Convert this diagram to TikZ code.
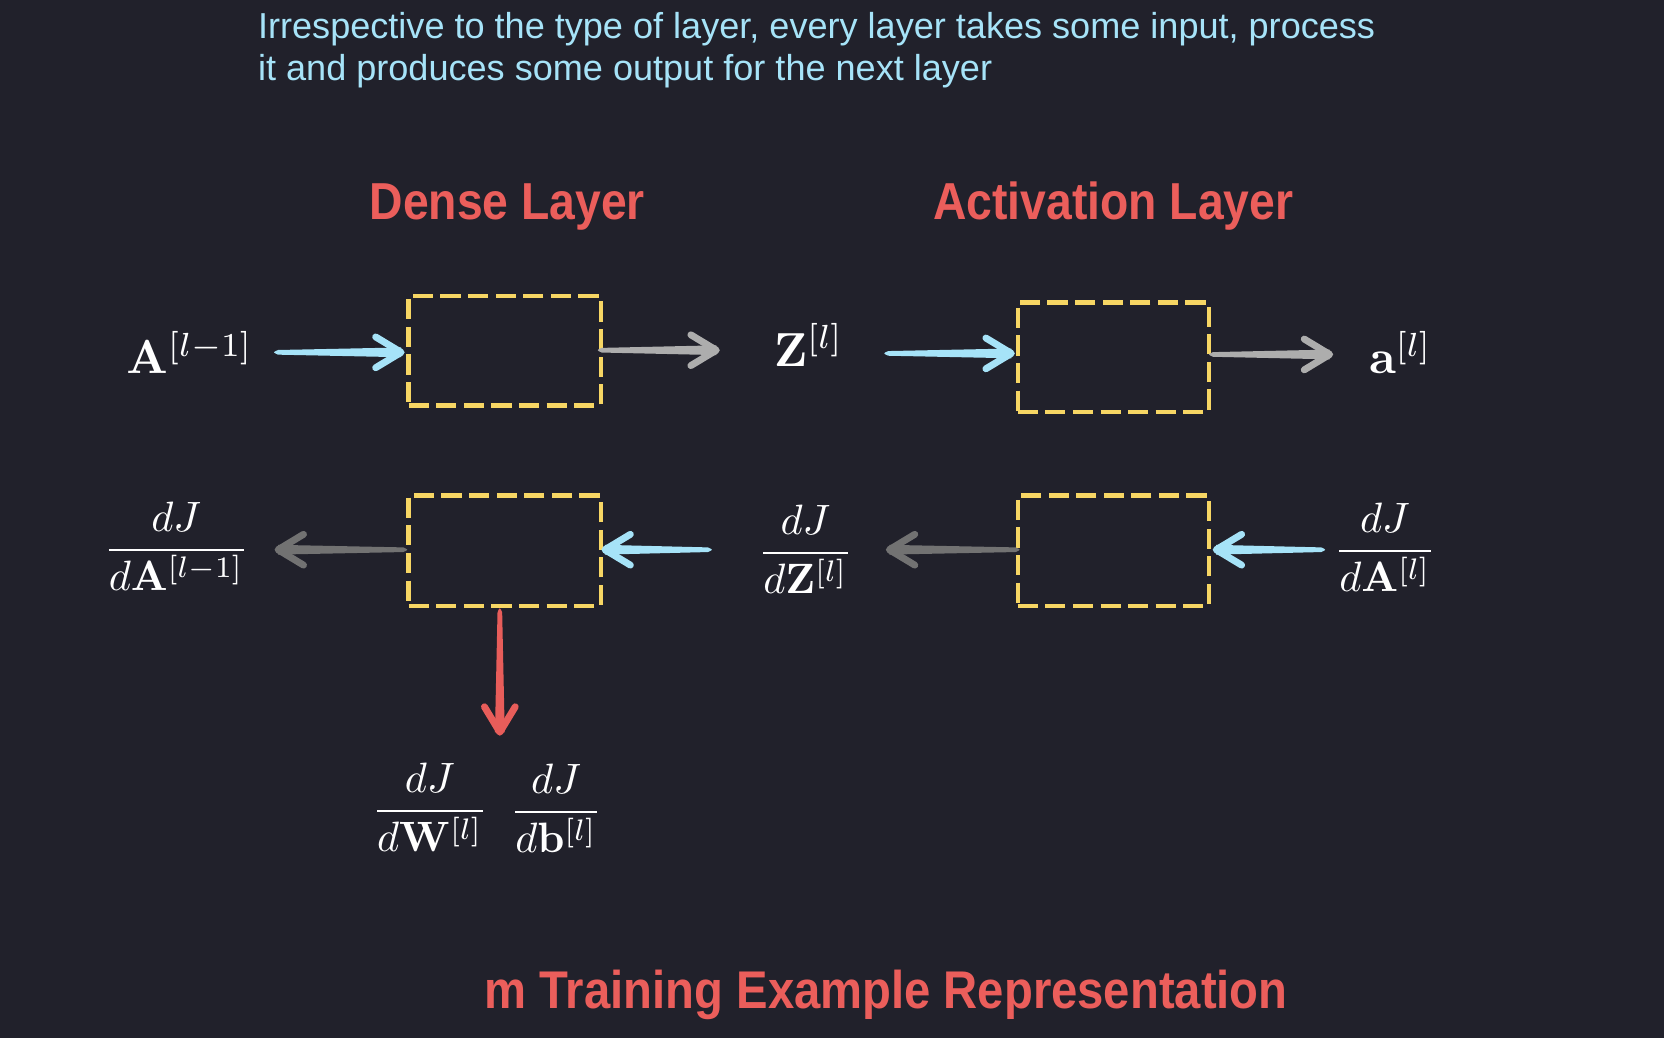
\documentclass[tikz,border=0pt]{standalone}
\usepackage{amsmath}
\usepackage[no-math]{fontspec}
\setmainfont{Liberation Sans}
\newfontfamily\titlefont{Liberation Sans}[FakeStretch=0.89]
\usetikzlibrary{calc}
\definecolor{bg}{HTML}{21212B}
\definecolor{yel}{HTML}{F7D664}
\definecolor{tred}{HTML}{EB5E5B}
\definecolor{lblue}{HTML}{A6E3F8}
\definecolor{ablue}{HTML}{A6E3F8}
\definecolor{lgray}{HTML}{ADADAD}
\definecolor{dgray}{HTML}{727272}
\definecolor{ared}{HTML}{E85D5A}
\newcommand\skarrow[3]{%
  \coordinate (skT1) at ($(#2)!2.2pt!90:(#3)$);
  \coordinate (skT2) at ($(#2)!2.2pt!-90:(#3)$);
  \coordinate (skH1) at ($(#3)!4.6pt!-90:(#2)$);
  \coordinate (skH2) at ($(#3)!4.6pt!90:(#2)$);
  \coordinate (skTb) at ($(#2)!-5pt!(#3)$);
  \fill[#1] (skT1) -- (skH1) -- (skH2) -- (skT2) .. controls (skTb) .. (skT1);
  \coordinate (skB) at ($(#3)!24pt!(#2)$);
  \draw[#1, line width=6.5pt, line cap=round, line join=round]
    ($(skB)!14.5pt!90:(#3)$) -- (#3) -- ($(skB)!14.5pt!-90:(#3)$);
}
\newcommand\mylabmath[1]{\scalebox{4.5}{$#1$}}
\newcommand\myfracmath[1]{\scalebox{4.0}{$\displaystyle #1$}}
\begin{document}
\begin{tikzpicture}[x=1pt,y=-1pt]
\tikzset{
  boxst/.style={draw=yel, line width=4pt, dash pattern=on 19pt off 7pt,
    minimum width=181pt, minimum height=103pt, inner sep=0pt},
  mlab/.style={text=white, inner sep=0pt, anchor=base west},
  flab/.style={text=white, inner sep=0pt, anchor=base},
  ttl/.style={text=tred, font=\titlefont\bfseries\fontsize{49}{58}\selectfont, inner sep=0pt, anchor=base},
  intro/.style={text=lblue, font=\fontsize{34}{40}\selectfont, inner sep=0pt, anchor=base west},
}
\useasboundingbox[fill=bg] (0,0) rectangle (1568,978);

% texts
\node[intro] (intro1) at (243,36) {Irrespective to the type of layer, every layer takes some input, process};
\node[intro] (intro2) at (243,76) {it and produces some output for the next layer};
\node[ttl] (dense) at (478,207) {Dense Layer};
\node[ttl] (act) at (1049,207) {Activation Layer};
\node[ttl, font=\titlefont\bfseries\fontsize{50}{58}\selectfont] (bottom) at (835,950) {m Training Example Representation};

% boxes
\node[boxst] (dfwd) at (475.5,330.5) {};
\node[boxst, minimum width=180pt] (afwd) at (1049,336.5) {};
\node[boxst, minimum height=104pt] (dbwd) at (475.5,519) {};
\node[boxst, minimum width=180pt, minimum height=104pt] (abwd) at (1049,519) {};

% labels
\node[mlab] (Aprev) at (119,352) {\mylabmath{\mathbf{A}^{[l-1]}}};
\node[mlab] (Zl) at (729,345) {\mylabmath{\mathbf{Z}^{[l]}}};
\node[mlab] (al) at (1290,352) {\mylabmath{\mathbf{a}^{[l]}}};
\node[flab] (dAprev) at (166,528) {\myfracmath{\frac{dJ}{d\mathbf{A}^{[l-1]}}}};
\node[flab] (dZl) at (759,531) {\myfracmath{\frac{dJ}{d\mathbf{Z}^{[l]}}}};
\node[flab] (dAl) at (1305,529) {\myfracmath{\frac{dJ}{d\mathbf{A}^{[l]}}}};
\node[flab] (dWl) at (405,774) {\myfracmath{\frac{dJ}{d\mathbf{W}^{[l]}}}};
\node[flab] (dbl) at (524,775) {\myfracmath{\frac{dJ}{d\mathbf{b}^{[l]}}}};

% arrow end points
\coordinate (f1t) at (262,332); \coordinate (f1h) at (378,332);
\coordinate (f2t) at (567,330); \coordinate (f2h) at (675,330);
\coordinate (f3t) at (837,333); \coordinate (f3h) at (953,333);
\coordinate (f4t) at (1143,334); \coordinate (f4h) at (1253,334);
\coordinate (b1t) at (380,518); \coordinate (b1h) at (262,518);
\coordinate (b2t) at (667,518); \coordinate (b2h) at (570,518);
\coordinate (b3t) at (957,518); \coordinate (b3h) at (838,518);
\coordinate (b4t) at (1245,518); \coordinate (b4h) at (1146,518);
\coordinate (rt) at (471,577); \coordinate (rh) at (471,690);

\skarrow{ablue}{f1t}{f1h}
\skarrow{lgray}{f2t}{f2h}
\skarrow{ablue}{f3t}{f3h}
\skarrow{lgray}{f4t}{f4h}
\skarrow{dgray}{b1t}{b1h}
\skarrow{ablue}{b2t}{b2h}
\skarrow{dgray}{b3t}{b3h}
\skarrow{ablue}{b4t}{b4h}
\skarrow{ared}{rt}{rh}
\end{tikzpicture}
\end{document}
